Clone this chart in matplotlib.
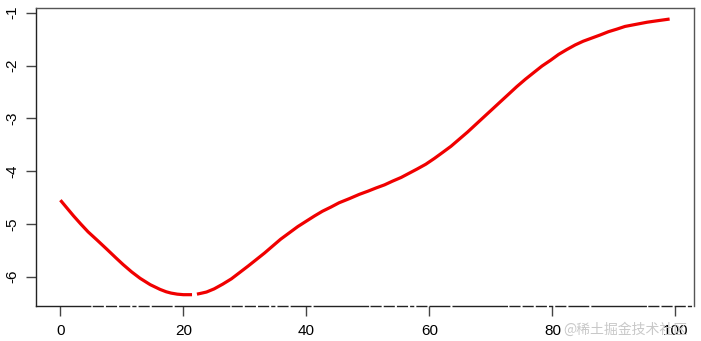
import numpy as np
import matplotlib
matplotlib.use("Agg")
import matplotlib.pyplot as plt

plt.rcParams['font.family'] = ['Liberation Sans', 'DejaVu Sans']
plt.rcParams['axes.unicode_minus'] = False

# smooth term (NaN marks the small gap in the curve)
x_vals = [0, 1.0, 2.15, 3.3, 4.5, 6.0, 7.56, 9.0, 10.2, 11.6, 12.96, 14.6, 16.2,
          17.2, 18.0, 19.0, 20.0, 21.4, np.nan,
          22.2, 23.0, 23.75, 25.0, 26.4, 27.8, 29.15, 30.5, 31.8, 33.2, 34.5,
          35.8, 37.2, 38.6, 39.95, 41.3, 42.6, 44.0, 45.3, 47.0, 48.6, 50.0,
          51.3, 52.7, 54.0, 55.4, 56.7, 58.0, 59.4, 60.8, 62.1, 63.5, 64.8,
          66.2, 67.5, 68.8, 70.2, 71.5, 72.9, 74.2, 75.6, 77.0, 78.3, 79.7,
          81.0, 82.3, 83.7, 85.0, 86.4, 87.8, 89.1, 90.5, 91.8, 93.6, 95.4,
          97.2, 99.05]
y_vals = [-4.55, -4.69, -4.85, -5.00, -5.15, -5.31, -5.48, -5.64, -5.77, -5.91, -6.03, -6.15, -6.24,
          -6.285, -6.31, -6.33, -6.34, -6.34, np.nan,
          -6.33, -6.31, -6.29, -6.23, -6.14, -6.04, -5.92, -5.80, -5.68, -5.55, -5.42,
          -5.29, -5.17, -5.05, -4.95, -4.85, -4.76, -4.68, -4.60, -4.52, -4.44, -4.38,
          -4.32, -4.26, -4.19, -4.12, -4.04, -3.96, -3.87, -3.76, -3.65, -3.53, -3.40,
          -3.26, -3.12, -2.98, -2.83, -2.69, -2.54, -2.40, -2.26, -2.13, -2.01, -1.90,
          -1.79, -1.70, -1.61, -1.54, -1.48, -1.42, -1.36, -1.31, -1.26, -1.22, -1.18,
          -1.15, -1.12]

x_ticks = [0, 20, 40, 60, 80, 100]
y_ticks = [-6, -5, -4, -3, -2, -1]

fig = plt.figure(figsize=(7.01, 3.41), dpi=100)
ax = fig.add_axes([0.0514, 0.1035, 0.9386, 0.873])

ax.plot(x_vals, y_vals, color='#f00000', lw=2.3, solid_capstyle='butt',
        solid_joinstyle='round')
ax.margins(x=0.04, y=0.04)

ax.set_xticks(x_ticks)
ax.set_xticklabels([str(t) for t in x_ticks])
ax.set_yticks(y_ticks)
ax.set_yticklabels([str(t) for t in y_ticks], rotation=90, va='center')

ax.tick_params(axis='both', length=7, width=1, color='#444444', labelsize=11)
ax.tick_params(axis='x', pad=6)
ax.tick_params(axis='y', pad=5)

for side, sp in ax.spines.items():
    sp.set_color('#555555')
    sp.set_linewidth(1.0)
ax.spines['left'].set_color('#222222')
# bottom edge looks like a broken rug line
ax.spines['bottom'].set_color('#222222')
ax.spines['bottom'].set_linestyle((0, (39, 2, 7, 2.5, 7, 2.5, 7, 2.5, 2, 2.5, 7, 2.5, 14, 2.5)))

fig.text(0.804, 0.022, '@稀土掘金技术社区', color='#c8c8c8', fontsize=10,
         family=['Noto Sans CJK SC', 'DejaVu Sans'])

fig.savefig('out.png', dpi=100)
